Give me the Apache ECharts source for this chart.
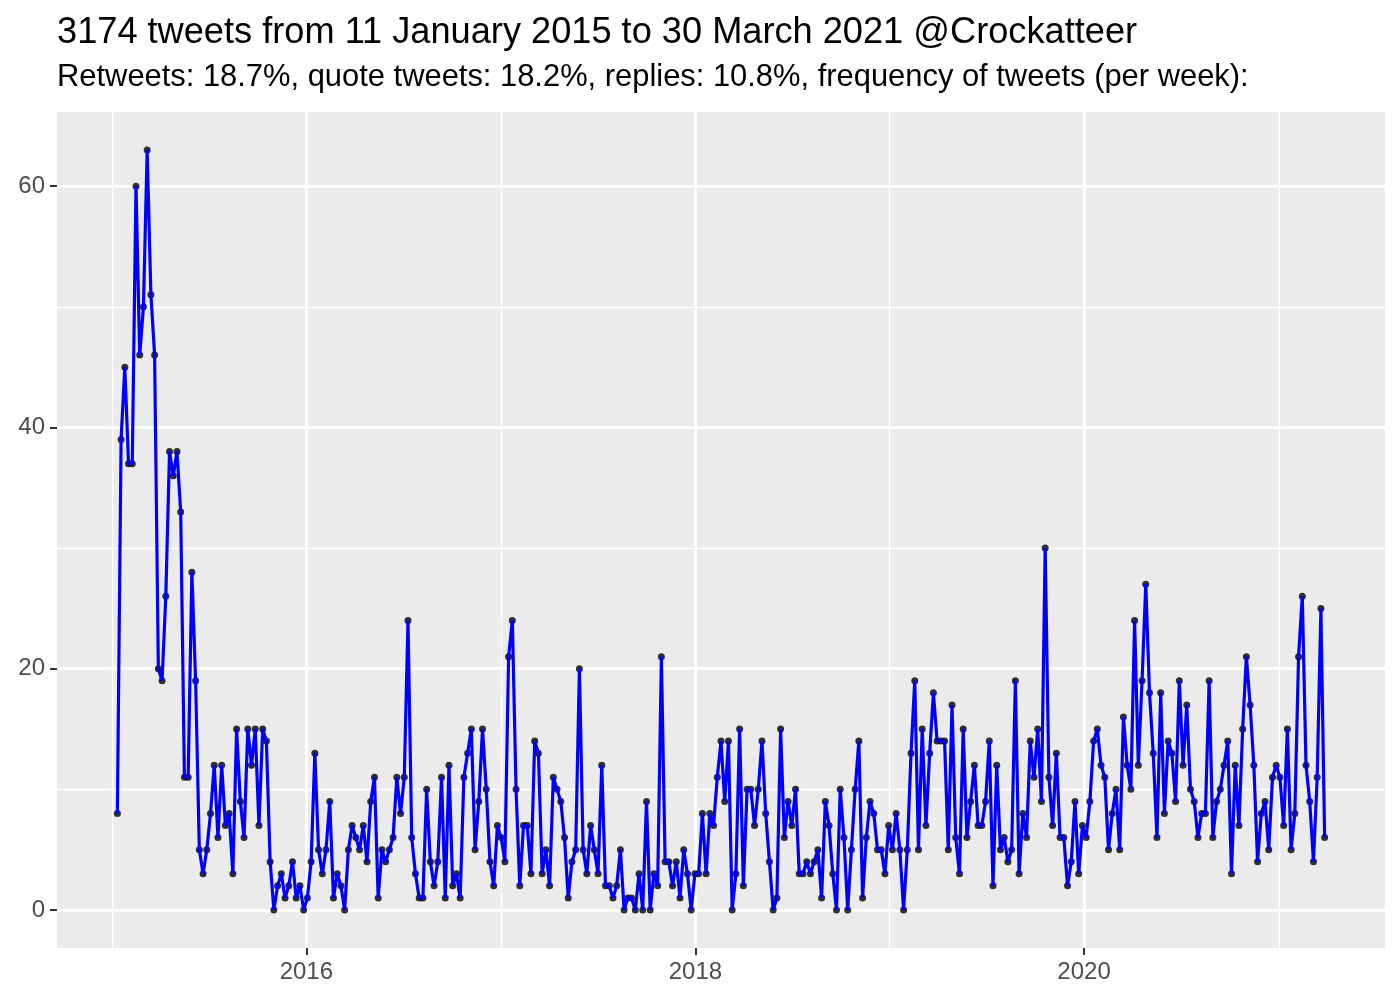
<!DOCTYPE html>
<html>
<head>
<meta charset="utf-8">
<script src="https://cdn.jsdelivr.net/npm/echarts@6/dist/echarts.min.js"></script>
<style>
html,body{margin:0;padding:0;background:#fff;}
#chart{width:1400px;height:1000px;}
</style>
</head>
<body>
<div id="chart"></div>
<script>
// ---- data ----
const titleText = "3174 tweets from 11 January 2015 to 30 March 2021 @Crockatteer";
const subtitleText = "Retweets: 18.7%, quote tweets: 18.2%, replies: 10.8%, frequency of tweets (per week):";
const firstWeek = "2015-01-11"; // weekly bins (week starting Sunday)
const tweetsPerWeek = [
  8, 39, 45, 37, 37, 60, 46, 50, 63, 51, 46, 20, 19, 26, 38, 36, 38, 33, 11, 11, 28, 19, 5, 3, 5, 8, 12,
  6, 12, 7, 8, 3, 15, 9, 6, 15, 12, 15, 7, 15, 14, 4, 0, 2, 3, 1, 2, 4, 1, 2, 0, 1, 4, 13, 5, 3,
  5, 9, 1, 3, 2, 0, 5, 7, 6, 5, 7, 4, 9, 11, 1, 5, 4, 5, 6, 11, 8, 11, 24, 6, 3, 1,
  1, 10, 4, 2, 4, 11, 1, 12, 2, 3, 1, 11, 13, 15, 5, 9, 15, 10, 4, 2, 7, 6, 4, 21, 24, 10, 2,
  7, 7, 3, 14, 13, 3, 5, 2, 11, 10, 9, 6, 1, 4, 5, 20, 5, 3, 7, 5, 3, 12, 2, 2, 1, 2, 5,
  0, 1, 1, 0, 3, 0, 9, 0, 3, 2, 21, 4, 4, 2, 4, 1, 5, 3, 0, 3, 3, 8, 3, 8, 7, 11, 14,
  9, 14, 0, 3, 15, 2, 10, 10, 7, 10, 14, 8, 4, 0, 1, 15, 6, 9, 7, 10, 3, 3, 4, 3, 4, 5, 1,
  9, 7, 3, 0, 10, 6, 0, 5, 10, 14, 1, 6, 9, 8, 5, 5, 3, 7, 5, 8, 5, 0, 5, 13, 19, 5, 15,
  7, 13, 18, 14, 14, 14, 5, 17, 6, 3, 15, 6, 9, 12, 7, 7, 9, 14, 2, 12, 5, 6, 4, 5, 19, 3,
  8, 6, 14, 11, 15, 9, 30, 11, 7, 13, 6, 6, 2, 4, 9, 3, 7, 6, 9, 14, 15, 12, 11, 5, 8, 10, 5,
  16, 12, 10, 24, 12, 19, 27, 18, 13, 6, 18, 8, 14, 13, 9, 19, 12, 17, 10, 9, 6, 8, 8, 19, 6, 9, 10,
  12, 14, 3, 12, 7, 15, 21, 17, 12, 4, 8, 9, 5, 11, 12, 11, 7, 15, 5, 8, 21, 26, 12, 9, 4, 11, 25, 6
];
const yMajorTicks = [0, 20, 40, 60];
const yMinorTicks = [10, 30, 50];
const xMajorYears = [2016, 2018, 2020];
const xMinorYears = [2015, 2017, 2019, 2021];

// ---- build ----
const DAY = 86400000;
const t0 = Date.parse(firstWeek + "T00:00:00Z");
const points = tweetsPerWeek.map((v, i) => [t0 + i * 7 * DAY, v]);
const tFirst = points[0][0], tLast = points[points.length - 1][0];
const xPad = (tLast - tFirst) * 0.05;
const yMaxData = Math.max.apply(null, tweetsPerWeek);
const yPad = yMaxData * 0.05;
const yr = y => Date.UTC(y, 0, 1);

const chart = echarts.init(document.getElementById('chart'), null, {renderer: 'canvas'});
const axisTextColor = '#4D4D4D';
const font = 'Liberation Sans, Arial, sans-serif';

chart.setOption({
  animation: false,
  backgroundColor: '#ffffff',
  textStyle: {fontFamily: font},
  title: [
    {text: titleText, left: 57, top: 15, padding: 0, textStyle: {fontSize: 36.2, fontWeight: 'normal', color: '#000', fontFamily: font}},
    {text: subtitleText, left: 57, top: 62, padding: 0, textStyle: {fontSize: 30.9, fontWeight: 'normal', color: '#000', fontFamily: font}}
  ],
  grid: {left: 57, right: 15, top: 112, bottom: 52, show: true, backgroundColor: '#EBEBEB', borderWidth: 0},
  xAxis: [
    {
      type: 'value', min: tFirst - xPad, max: tLast + xPad, position: 'bottom',
      axisLine: {show: false, onZero: false},
      axisTick: {show: true, length: 7, lineStyle: {color: '#333333', width: 2}, customValues: xMajorYears.map(yr)},
      axisLabel: {show: true, customValues: xMajorYears.map(yr), color: axisTextColor, fontSize: 24, margin: 12, fontFamily: font,
        formatter: v => String(new Date(v).getUTCFullYear())},
      splitLine: {show: true, lineStyle: {color: '#ffffff', width: 2.8}}
    },
    {
      type: 'value', min: tFirst - xPad, max: tLast + xPad, position: 'bottom',
      axisLine: {show: false, onZero: false},
      axisTick: {show: false, customValues: xMinorYears.map(yr)},
      axisLabel: {show: false, customValues: xMinorYears.map(yr)},
      splitLine: {show: true, lineStyle: {color: '#ffffff', width: 1.4}}
    }
  ],
  yAxis: [
    {
      type: 'value', min: -yPad, max: yMaxData + yPad, position: 'left',
      axisLine: {show: false, onZero: false},
      axisTick: {show: true, length: 7, lineStyle: {color: '#333333', width: 2}, customValues: yMajorTicks},
      axisLabel: {show: true, customValues: yMajorTicks, color: axisTextColor, fontSize: 24, margin: 12, fontFamily: font},
      splitLine: {show: true, lineStyle: {color: '#ffffff', width: 2.8}}
    },
    {
      type: 'value', min: -yPad, max: yMaxData + yPad, position: 'left',
      axisLine: {show: false, onZero: false},
      axisTick: {show: false, customValues: yMinorTicks},
      axisLabel: {show: false, customValues: yMinorTicks},
      splitLine: {show: true, lineStyle: {color: '#ffffff', width: 1.4}}
    }
  ],
  series: [
    {
      type: 'scatter', xAxisIndex: 0, yAxisIndex: 0, data: points,
      symbol: 'circle', symbolSize: 7, itemStyle: {color: '#000000'}, z: 2, silent: true
    },
    {
      type: 'line', xAxisIndex: 0, yAxisIndex: 0, data: points,
      showSymbol: false, lineStyle: {color: '#0000FF', width: 3.2}, z: 3, silent: true
    }
  ]
});
</script>
</body>
</html>
